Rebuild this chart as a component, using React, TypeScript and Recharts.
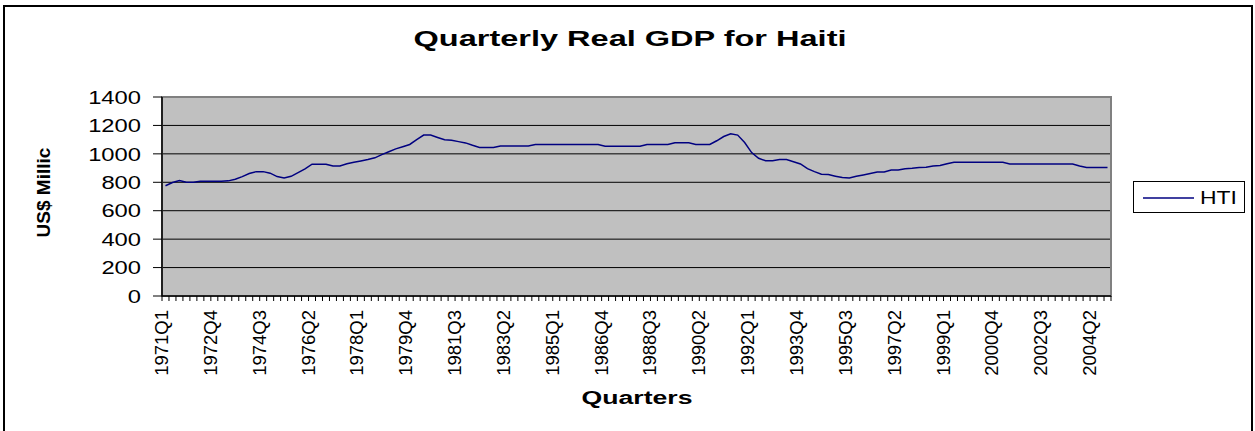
import React from 'react';
import { LineChart, Line, XAxis, YAxis, CartesianGrid, ReferenceArea, Legend } from 'recharts';

const values1970s = [
  776, 798, 812, 800, 800, 808, 808, 808, 808, 810, 822, 840,
  862, 875, 875, 864, 840, 830, 842, 868, 894, 927, 927, 927,
  915, 915, 930, 941, 950, 960, 972, 995, 1015, 1035, 1050, 1066,
];
const values1980s = [
  1100, 1132, 1132, 1115, 1099, 1096, 1086, 1077, 1060, 1045, 1045, 1045,
  1056, 1056, 1056, 1056, 1056, 1066, 1066, 1066, 1066, 1066, 1066, 1066,
  1066, 1066, 1066, 1054, 1054, 1054, 1054, 1054, 1054, 1066, 1066, 1066,
  1066, 1078, 1078, 1078,
];
const values1990s = [
  1066, 1066, 1066, 1092, 1122, 1141, 1132, 1080, 1009, 969, 951, 951,
  960, 960, 945, 929, 896, 875, 857, 854, 843, 833, 831, 842,
  852, 862, 873, 873, 887, 887, 896, 899, 904, 906, 915, 918,
  930, 941, 941, 941,
];
const values2000s = [
  941, 941, 941, 941, 941, 929, 929, 929, 929, 929, 929, 929,
  929, 929, 929, 915, 904, 904, 904, 904,
];

const START_YEAR = 1971;
const allValues = [...values1970s, ...values1980s, ...values1990s, ...values2000s];
const quarterLabels: string[] = allValues.map(
  (_, i) => `${START_YEAR + Math.floor(i / 4)}Q${(i % 4) + 1}`
);
const N = quarterLabels.length;
const LABEL_EVERY = 7;
const yTicks = [0, 200, 400, 600, 800, 1000, 1200, 1400];
const xTickBoundaries = Array.from({ length: N + 1 }, (_, i) => i);

const data = allValues.map((v, i) => ({ pos: i + 0.5, label: quarterLabels[i], HTI: v }));

const W = 1255;
const H = 431;
const MARGIN = { top: 97, right: 144, bottom: 0, left: 0 };
const Y_AXIS_W = 162;
const X_AXIS_H = H - 296;
const PLOT_W = W - MARGIN.left - MARGIN.right - Y_AXIS_W;
const HALF_STEP = PLOT_W / N / 2;

const FONT = "'Liberation Sans', Arial, Helvetica, sans-serif";

const YTick = (props: any) => {
  const { x, y, payload } = props;
  return (
    <g transform={`translate(${x},${y})`}>
      <text transform="scale(1.25,1)" textAnchor="end" dy="0.35em" fontSize={19} fontFamily={FONT} fill="#000">
        {payload.value}
      </text>
    </g>
  );
};

const XTick = (props: any) => {
  const { x, y, payload } = props;
  const v = payload.value as number;
  if (v % LABEL_EVERY !== 0 || v >= N) return <g />;
  return (
    <g transform={`translate(${x + HALF_STEP - 4},${y + 7}) rotate(-90)`}>
      <text textAnchor="end" dy="0.35em" fontSize={18.5} fontFamily={FONT} fill="#000">
        {quarterLabels[v]}
      </text>
    </g>
  );
};

const YTitle = () => (
  <text
    transform="translate(43.5,192.5) rotate(-90)"
    textAnchor="middle"
    dy="0.35em"
    fontSize={19}
    fontWeight="bold"
    fontFamily={FONT}
    fill="#000"
  >
    US$ Millic
  </text>
);

const XTitle = () => (
  <text
    x={637}
    y={404}
    textAnchor="middle"
    fontSize={18}
    fontWeight="bold"
    fontFamily={FONT}
    textLength={111}
    lengthAdjust="spacingAndGlyphs"
    fill="#000"
  >
    Quarters
  </text>
);

const LegendBox = () => (
  <div
    style={{
      width: 112,
      height: 32,
      border: '1px solid #000',
      boxSizing: 'border-box',
      background: '#fff',
    }}
  >
    <svg width={110} height={30}>
      <line x1={9} y1={16} x2={60} y2={16} stroke="#000080" strokeWidth={1.5} />
      <text x={66} y={22} fontSize={17.5} fontFamily={FONT} textLength={37} lengthAdjust="spacingAndGlyphs" fill="#000">
        HTI
      </text>
    </svg>
  </div>
);

export default function App() {
  return (
    <div style={{ position: 'absolute', left: 0, top: 0, width: W, height: H, background: '#fff', overflow: 'hidden' }}>
      <div
        style={{
          position: 'absolute',
          left: 3,
          top: 5,
          width: 1250,
          height: 480,
          border: '2px solid #000',
          boxSizing: 'border-box',
        }}
      />
      <svg style={{ position: 'absolute', left: 0, top: 0 }} width={W} height={80}>
        <text
          x={630}
          y={46}
          textAnchor="middle"
          fontSize={22}
          fontWeight="bold"
          fontFamily={FONT}
          textLength={433}
          lengthAdjust="spacingAndGlyphs"
          fill="#000"
        >
          Quarterly Real GDP for Haiti
        </text>
      </svg>
      <div style={{ position: 'absolute', left: 0, top: 0 }}>
        <LineChart width={W} height={H} data={data} margin={MARGIN}>
          <CartesianGrid fill="#C0C0C0" fillOpacity={1} vertical={false} stroke="#000" strokeWidth={1} />
          <ReferenceArea x1={0} x2={N} y1={0} y2={1400} fill="none" stroke="#808080" strokeWidth={2} ifOverflow="visible" />
          <XAxis
            dataKey="pos"
            type="number"
            domain={[0, N]}
            ticks={xTickBoundaries}
            interval={0}
            tickSize={5}
            tickMargin={2}
            tick={<XTick />}
            height={X_AXIS_H}
            axisLine={{ stroke: '#000', strokeWidth: 1.5 }}
            tickLine={{ stroke: '#000', strokeWidth: 1 }}
            label={{ content: <XTitle /> }}
          />
          <YAxis
            type="number"
            domain={[0, 1400]}
            ticks={yTicks}
            interval={0}
            width={Y_AXIS_W}
            tickSize={9}
            tickMargin={12}
            tick={<YTick />}
            axisLine={{ stroke: '#000', strokeWidth: 1.5 }}
            tickLine={{ stroke: '#000', strokeWidth: 1 }}
            label={{ content: <YTitle /> }}
          />
          <Legend
            layout="vertical"
            align="center"
            verticalAlign="middle"
            wrapperStyle={{ left: 1133, top: 181, width: 112, height: 32 }}
            content={<LegendBox />}
          />
          <Line
            type="linear"
            dataKey="HTI"
            stroke="#000080"
            strokeWidth={1.5}
            dot={false}
            activeDot={false}
            isAnimationActive={false}
          />
        </LineChart>
      </div>
    </div>
  );
}
